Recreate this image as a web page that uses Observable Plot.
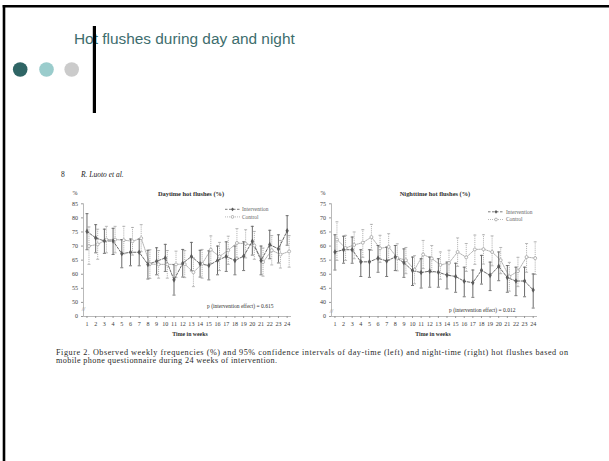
<!DOCTYPE html>
<html>
<head>
<meta charset="utf-8">
<script src="https://cdn.jsdelivr.net/npm/d3@7"></script>
<script src="https://cdn.jsdelivr.net/npm/@observablehq/plot@0.6"></script>
<style>
html, body { margin: 0; padding: 0; background: #fff; }
#page { position: relative; width: 609px; height: 461px; overflow: hidden; background: #fff; }
.abs { position: absolute; }
</style>
</head>
<body>
<div id="page">
  <svg id="deco" class="abs" width="609" height="461" style="left:0;top:0"></svg>
  <div id="day" class="abs" style="left:40px;top:183px"></div>
  <div id="night" class="abs" style="left:290px;top:183px"></div>
  <svg id="top" class="abs" width="609" height="461" style="left:0;top:0;pointer-events:none"></svg>
</div>
<script>
// ---------- data ----------
const slideTitle = "Hot flushes during day and night";
const pageNumber = "8";
const authors = "R. Luoto et al.";
const chartTitles = ["Daytime hot flushes (%)", "Nighttime hot flushes (%)"];
const seriesNames = ["Intervention", "Control"];
const pLabels = ["p (intervention effect) = 0.615", "p (intervention effect) = 0.012"];
const xTitle = "Time in weeks";
const yUnit = "%";
const breakLabel = "0";
const captionLines = [
  "Figure 2. Observed weekly frequencies (%) and 95% confidence intervals of day-time (left) and night-time (right) hot flushes based on",
  "mobile phone questionnaire during 24 weeks of intervention."
];

const weeks = [1,2,3,4,5,6,7,8,9,10,11,12,13,14,15,16,17,18,19,20,21,22,23,24];

const dayYTicks = [50,55,60,65,70,75,80,85];
const nightYTicks = [40,45,50,55,60,65,70,75];

const dayIntervention   = [75.2,72.9,71.8,71.8,67.3,67.8,67.8,63.5,64.6,65.8,58.0,63.9,66.3,63.7,63.1,64.9,66.3,64.9,66.4,71.7,64.9,70.5,69.0,75.4];
const dayInterventionLo = [68.7,67.6,67.4,67.0,62.3,63.0,63.0,58.3,59.8,61.0,52.6,59.0,61.2,59.0,58.0,59.8,61.0,59.8,61.3,66.8,59.8,65.5,64.0,70.3];
const dayInterventionHi = [81.5,77.6,76.0,76.3,72.3,72.5,72.5,68.5,69.4,70.6,63.4,68.8,71.3,68.5,68.3,70.0,71.5,70.0,71.5,77.0,70.0,75.6,74.0,80.8];

const dayControl   = [70.0,70.6,72.3,72.3,72.1,71.7,72.8,63.6,63.5,63.5,63.5,63.6,60.7,63.7,68.7,66.3,68.5,71.1,70.8,70.2,64.3,68.5,67.0,68.1];
const dayControlLo = [63.5,65.3,67.6,67.6,67.2,66.8,68.0,58.5,58.6,58.6,58.8,58.8,55.6,58.6,63.8,61.3,63.5,66.0,65.8,65.3,59.3,63.3,62.2,62.5];
const dayControlHi = [76.8,76.0,77.0,77.0,77.0,76.6,77.6,68.7,68.4,68.4,68.2,68.4,65.8,68.8,73.6,71.3,73.5,76.2,75.8,75.2,69.3,73.7,72.0,73.7];

const nightIntervention   = [57.9,58.7,58.7,54.4,54.4,55.7,54.7,56.1,54.1,51.3,50.6,51.1,50.7,49.7,49.2,47.5,47.0,51.4,49.6,52.8,48.8,47.6,47.6,44.4];
const nightInterventionLo = [51.5,53.9,53.9,49.2,48.9,50.7,49.2,51.3,48.9,46.0,45.1,45.4,45.4,44.8,43.6,42.0,41.8,46.5,44.2,47.7,43.6,42.4,42.0,38.0];
const nightInterventionHi = [64.0,63.5,63.2,58.7,58.7,60.2,59.6,60.2,59.0,56.1,55.5,56.1,55.5,54.3,53.9,52.5,51.5,56.7,54.3,57.9,53.1,52.5,52.5,50.1];

const nightControl   = [62.3,59.3,60.4,61.2,63.2,59.2,59.7,55.8,55.0,51.6,57.0,55.6,53.3,54.0,57.9,56.0,58.8,58.9,57.9,55.0,49.2,51.1,56.1,55.7];
const nightControlLo = [54.9,54.9,55.5,56.0,58.5,54.2,54.9,51.2,50.2,46.6,52.0,50.7,48.2,49.5,52.8,51.0,53.5,53.6,53.0,50.2,44.0,45.6,50.7,49.9];
const nightControlHi = [68.6,63.8,65.0,65.8,67.7,63.8,64.4,60.8,59.5,56.6,62.0,60.2,57.9,58.5,62.9,60.9,63.9,64.0,63.6,59.5,54.2,56.0,60.9,61.5];

// ---------- helpers ----------
const rows = (vals, lo, hi) => weeks.map((w, i) => ({week: w, value: vals[i], lo: lo[i], hi: hi[i]}));
const capSymbol = {
  draw(ctx, size) {
    const r = Math.sqrt(size / Math.PI);
    ctx.moveTo(-r, 0); ctx.lineTo(r, 0);
  }
};
const INT = "#5a5a5a", CTL = "#a8a8a8";

function chart({iv, ilo, ihi, cv, clo, chi, yTicks, marginLeft, marginRight}) {
  const inter = rows(iv, ilo, ihi);
  const ctrl = rows(cv, clo, chi);
  const y0 = yTicks[0] - 5;
  const yDomain = [y0, yTicks[yTicks.length - 1]];
  return Plot.plot({
    width: 260, height: 165,
    marginLeft, marginRight, marginTop: 20.3, marginBottom: 32,
    style: {background: "transparent", overflow: "visible", fontFamily: "'Liberation Serif', serif", color: "#555"},
    x: {domain: [0.6, 24.5]},
    y: {domain: yDomain},
    marks: [
      Plot.axisX(weeks, {tickSize: 2, tickPadding: 3.1, fontSize: 6.1, label: null, strokeWidth: 0.6, fill: "#3a3a3a"}),
      Plot.axisY([y0, ...yTicks], {tickSize: 2, tickPadding: 3.4, fontSize: 6, label: null, strokeWidth: 0.6, fill: "#3a3a3a",
        tickFormat: d => d === y0 ? breakLabel : String(d)}),
      Plot.ruleX([0.6], {y1: yDomain[0], y2: yDomain[1], stroke: "#8a8a8a", strokeWidth: 0.6}),
      Plot.ruleY([y0], {stroke: "#8a8a8a", strokeWidth: 0.6}),
      // control
      Plot.ruleX(ctrl, {x: "week", y1: "lo", y2: "hi", dx: 2, stroke: CTL, strokeWidth: 0.9, strokeDasharray: "1,0.9"}),
      Plot.dot(ctrl, {x: "week", y: "lo", dx: 2, symbol: capSymbol, r: 1.5, stroke: CTL, strokeWidth: 0.8}),
      Plot.dot(ctrl, {x: "week", y: "hi", dx: 2, symbol: capSymbol, r: 1.5, stroke: CTL, strokeWidth: 0.8}),
      Plot.line(ctrl, {x: "week", y: "value", dx: 2, stroke: CTL, strokeWidth: 0.9, strokeDasharray: "1,1"}),
      // intervention
      Plot.ruleX(inter, {x: "week", y1: "lo", y2: "hi", stroke: "#6a6a6a", strokeWidth: 1}),
      Plot.dot(inter, {x: "week", y: "lo", symbol: capSymbol, r: 1.5, stroke: "#6a6a6a", strokeWidth: 0.9}),
      Plot.dot(inter, {x: "week", y: "hi", symbol: capSymbol, r: 1.5, stroke: "#6a6a6a", strokeWidth: 0.9}),
      Plot.line(inter, {x: "week", y: "value", stroke: INT, strokeWidth: 0.9, strokeDasharray: "2.5,1.5"}),
      Plot.dot(ctrl, {x: "week", y: "value", dx: 2, r: 1.5, stroke: "#999", fill: "white", strokeWidth: 0.7}),
      Plot.dot(inter, {x: "week", y: "value", symbol: "diamond", r: 1.7, fill: INT})
    ]
  });
}

document.getElementById("day").append(chart({
  iv: dayIntervention, ilo: dayInterventionLo, ihi: dayInterventionHi,
  cv: dayControl, clo: dayControlLo, chi: dayControlHi,
  yTicks: dayYTicks, marginLeft: 43, marginRight: 9
}));
document.getElementById("night").append(chart({
  iv: nightIntervention, ilo: nightInterventionLo, ihi: nightInterventionHi,
  cv: nightControl, clo: nightControlLo, chi: nightControlHi,
  yTicks: nightYTicks, marginLeft: 41, marginRight: 13
}));

// ---------- slide decoration and figure texts ----------
const deco = d3.select("#deco");
const topLayer = d3.select("#top");
const serif = "'Liberation Serif', serif";

function text(sel, x, y, s, o = {}) {
  const t = sel.append("text").attr("x", x).attr("y", y).text(s)
    .attr("font-family", o.family || serif)
    .attr("font-size", o.size || 6)
    .attr("fill", o.fill || "#333");
  if (o.anchor) t.attr("text-anchor", o.anchor);
  if (o.weight) t.attr("font-weight", o.weight);
  if (o.style) t.attr("font-style", o.style);
  if (o.len) t.attr("textLength", o.len).attr("lengthAdjust", o.adjust || "spacing");
  return t;
}

// slide frame
deco.append("line").attr("x1", 2.7).attr("x2", 609).attr("y1", 6.3).attr("y2", 6.3).attr("stroke", "#000").attr("stroke-width", 2.6);
deco.append("line").attr("x1", 4).attr("x2", 4).attr("y1", 5).attr("y2", 461).attr("stroke", "#000").attr("stroke-width", 2.6);

// slide title
text(deco, 74, 44, slideTitle, {family: "'Liberation Sans', Arial, sans-serif", size: 15.4, fill: "#3d6d6d"});
// bullets
[["#2f6565", 20.2], ["#9acccc", 46.5], ["#cbcbcb", 71.7]].forEach(([c, cx]) =>
  deco.append("circle").attr("cx", cx).attr("cy", 69.5).attr("r", 7.3).attr("fill", c));
// vertical bar
topLayer.append("rect").attr("x", 92.8).attr("y", 26).attr("width", 3.2).attr("height", 87).attr("fill", "#000");

// page header
text(deco, 61, 177, pageNumber, {size: 7.5, fill: "#222"});
text(deco, 81, 177, authors, {size: 7.5, fill: "#222", style: "italic"});

// chart titles
text(deco, 191, 195.5, chartTitles[0], {size: 6.4, weight: "bold", anchor: "middle", fill: "#2e2e2e"});
text(deco, 435, 195.5, chartTitles[1], {size: 6.4, weight: "bold", anchor: "middle", fill: "#2e2e2e"});
text(deco, 75, 195.3, yUnit, {size: 6, anchor: "middle"});
text(deco, 323, 195.3, yUnit, {size: 6, anchor: "middle"});

// legends
function legend(x0, x1, yI, yC) {
  const mx = (x0 + x1) / 2;
  deco.append("line").attr("x1", x0).attr("x2", x1).attr("y1", yI).attr("y2", yI)
    .attr("stroke", INT).attr("stroke-width", 0.8).attr("stroke-dasharray", "2.5,1.5");
  deco.append("path").attr("d", `M${mx},${yI - 1.9}L${mx + 1.5},${yI}L${mx},${yI + 1.9}L${mx - 1.5},${yI}Z`).attr("fill", INT);
  deco.append("line").attr("x1", x0).attr("x2", x1).attr("y1", yC).attr("y2", yC)
    .attr("stroke", CTL).attr("stroke-width", 0.8).attr("stroke-dasharray", "1,1");
  deco.append("circle").attr("cx", mx).attr("cy", yC).attr("r", 1.4).attr("fill", "white").attr("stroke", "#999").attr("stroke-width", 0.7);
  text(deco, x1 + 2, yI + 1.9, seriesNames[0], {size: 5.4, fill: "#666"});
  text(deco, x1 + 2, yC + 1.9, seriesNames[1], {size: 5.4, fill: "#666"});
}
legend(225, 240, 209.3, 216.9);
legend(488, 504, 211.8, 219.5);

// p-values
text(deco, 207, 308.2, pLabels[0], {size: 5.5, fill: "#2e2e2e"});
text(deco, 449, 311.7, pLabels[1], {size: 5.5, fill: "#2e2e2e"});

// axis breaks
text(deco, 83.5, 310.5, "//", {size: 6.5, anchor: "middle", fill: "#777"});
text(deco, 331.5, 312.5, "//", {size: 6.5, anchor: "middle", fill: "#777"});

// x titles
text(deco, 190, 335.5, xTitle, {size: 5.8, weight: "bold", anchor: "middle", fill: "#2e2e2e"});
text(deco, 433, 335.5, xTitle, {size: 5.8, weight: "bold", anchor: "middle", fill: "#2e2e2e"});

// caption
text(deco, 56, 355.2, captionLines[0], {size: 8.2, fill: "#2a2a2a", len: 512});
text(deco, 56, 363, captionLines[1], {size: 8.2, fill: "#2a2a2a", len: 221});
</script>
</body>
</html>
